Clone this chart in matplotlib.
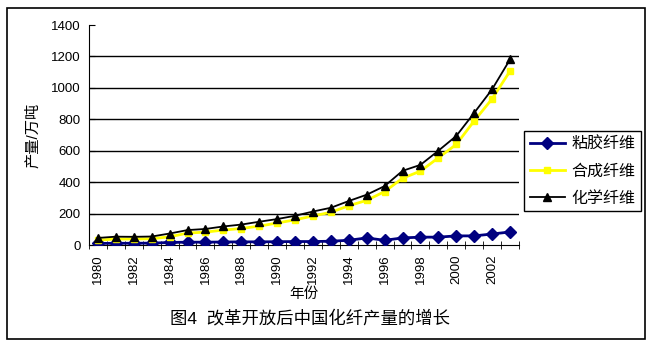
import numpy as np
import matplotlib
matplotlib.use("Agg")
import matplotlib.pyplot as plt
from matplotlib.patches import Rectangle

plt.rcParams['font.family'] = ['Liberation Sans', 'Noto Sans CJK SC']

years = list(range(1980, 2004))
viscose = [10, 11, 11, 12, 16, 18, 18, 19, 20, 20, 21, 22, 22, 24, 30, 45, 30, 45, 50, 50, 58, 58, 70, 83]
synthetic = [31, 38, 38, 40, 52, 76, 82, 95, 105, 120, 140, 160, 185, 208, 250, 284, 340, 425, 470, 555, 640, 790, 930, 1107]
chemical = [45, 53, 52, 54, 73, 95, 102, 118, 130, 148, 165, 186, 213, 237, 280, 320, 375, 472, 510, 600, 694, 841, 991, 1181]
series_names = ['粘胶纤维', '合成纤维', '化学纤维']
year_labels = [str(y) if y % 2 == 0 else '' for y in years]

fig = plt.figure(figsize=(6.53, 3.48), dpi=100)
ax = fig.add_axes([89/653, 1 - 245/348, 430/653, 220/348])

x = np.arange(len(years))
ax.plot(x, viscose, color='#000080', lw=2, marker='D', ms=6.5, label=series_names[0], zorder=3)
ax.plot(x, synthetic, color='#FFFF00', lw=2, marker='s', ms=5, label=series_names[1], zorder=4)
ax.plot(x, chemical, color='black', lw=1.3, marker='^', ms=6, label=series_names[2], zorder=5)

ax.set_xlim(-0.5, len(years) - 0.5)
ax.set_ylim(0, 1400)
ax.set_yticks(range(0, 1401, 200))
ax.tick_params(axis='y', direction='in', length=4, labelsize=9.5, pad=6)
ax.set_xticks(x)
ax.set_xticklabels(year_labels, rotation=90, fontsize=9.5)
ax.tick_params(axis='x', which='major', length=0, pad=7)
ax.set_xticks(np.arange(len(years) + 1) - 0.5, minor=True)
ax.tick_params(axis='x', which='minor', direction='inout', length=6)

ax.yaxis.grid(True, color='black', lw=1)
gl = ax.get_ygridlines()
gl[0].set_visible(False)
gl[-1].set_visible(False)
for s in ['top', 'right']:
    ax.spines[s].set_visible(False)

ax.set_ylabel('产量/万吨', fontsize=11, labelpad=8)
ax.set_xlabel('年份', fontsize=10.5, labelpad=2)
fig.text(310/653, 1 - 318/348, '图4  改革开放后中国化纤产量的增长', fontsize=12.5,
         ha='center', va='center')

fig.legend(loc='upper left', bbox_to_anchor=(524/653, 1 - 131/348), fontsize=11.5,
           frameon=True, fancybox=False, edgecolor='black', framealpha=1,
           borderpad=0.35, handlelength=2.2, labelspacing=0.75, handletextpad=0.4,
           borderaxespad=0)

fig.patches.append(Rectangle((7/653, 1 - 339/348), 638/653, 331/348, transform=fig.transFigure,
                             fill=False, edgecolor='black', lw=1.2))

fig.savefig('out.png', dpi=100)
